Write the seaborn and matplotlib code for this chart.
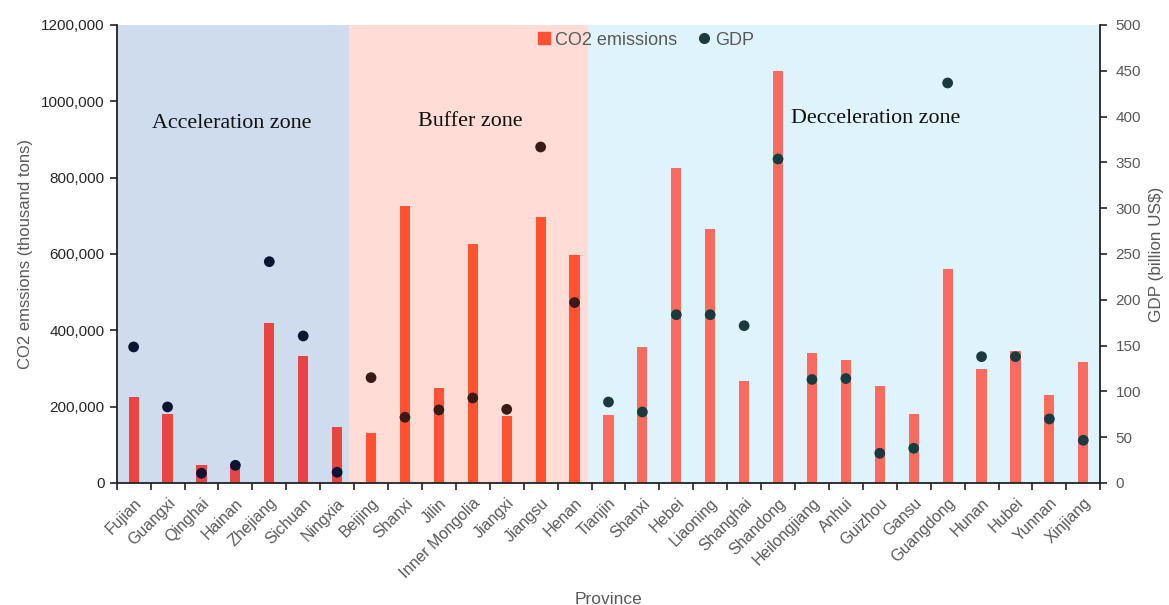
import numpy as np
import pandas as pd
import matplotlib
matplotlib.use("Agg")
import matplotlib.pyplot as plt
from matplotlib.lines import Line2D
import seaborn as sns

provinces = ["Fujian", "Guangxi", "Qinghai", "Hainan", "Zhejiang", "Sichuan", "Ningxia",
             "Beijing", "Shanxi", "Jilin", "Inner Mongolia", "Jiangxi", "Jiangsu", "Henan",
             "Tianjin", "Shanxi", "Hebei", "Liaoning", "Shanghai", "Shandong", "Heilongjiang",
             "Anhui", "Guizhou", "Gansu", "Guangdong", "Hunan", "Hubei", "Yunnan", "Xinjiang"]
zones = ["Acceleration"] * 7 + ["Buffer"] * 7 + ["Deceleration"] * 15
co2 = [225000, 180000, 47000, 50000, 420000, 333000, 146000,
       131000, 725000, 250000, 625000, 175000, 698000, 597000,
       178000, 356000, 825000, 665000, 266000, 1080000, 340000,
       321000, 254000, 182000, 560000, 298000, 346000, 231000, 317000]
gdp = [148.5, 83, 10.6, 19.3, 241.6, 160.5, 11.7,
       115, 71.7, 79.7, 92.8, 80.4, 366.8, 197,
       88.4, 77.5, 183.7, 183.7, 171.7, 353.7, 113,
       114, 32.4, 37.9, 436.7, 137.9, 137.9, 69.9, 46.6]
left_ticks = [0, 200000, 400000, 600000, 800000, 1000000, 1200000]
left_labels = ["0", "200,000", "400,000", "600,000", "800,000", "1000,000", "1200,000"]
right_ticks = [0, 50, 100, 150, 200, 250, 300, 350, 400, 450, 500]

df = pd.DataFrame({"pos": np.arange(len(provinces)), "province": provinces,
                   "zone": zones, "co2": co2, "gdp": gdp})

bar_colors = {"Acceleration": "#E84444", "Buffer": "#FF5233", "Deceleration": "#FA6A5E"}
dot_colors = {"Acceleration": "#0A1433", "Buffer": "#3B1A15", "Deceleration": "#1B3A40"}
bg_colors = {"Acceleration": "#CFDCEE", "Buffer": "#FFDCD6", "Deceleration": "#DFF3FC"}

sns.set_theme(style="white")
plt.rcParams["font.family"] = ["Liberation Sans", "DejaVu Sans"]

fig = plt.figure(figsize=(11.69, 6.05), dpi=100)
ax = fig.add_axes([0.0998, 0.2017, 0.8414, 0.757])

# zone backgrounds
spans = [("Acceleration", -0.5, 6.35), ("Buffer", 6.35, 13.39), ("Deceleration", 13.39, 28.5)]
for z, a, b in spans:
    ax.axvspan(a, b, color=bg_colors[z], zorder=0, lw=0)

sns.barplot(data=df, x="pos", y="co2", hue="zone", palette=bar_colors, dodge=False,
            width=0.3, ax=ax, legend=False, zorder=2, saturation=1, linewidth=0)
ax.set_xlim(-0.5, 28.5)
ax.set_ylim(0, 1200000)
ax.set_yticks(left_ticks)
ax.set_yticklabels(left_labels, color="#262626", fontsize=11)
ax.set_xticks(np.arange(len(provinces)))
ax.set_xticklabels(provinces, rotation=45, ha="right", rotation_mode="anchor",
                   color="#595959", fontsize=11.5)
ax.set_xticks(np.arange(-0.5, 29, 1), minor=True)
ax.tick_params(axis="x", which="major", length=0, pad=9)
ax.tick_params(axis="x", which="minor", length=5, width=1.2, color="#222222", direction="out", bottom=True)
ax.tick_params(axis="y", length=5, width=1.2, color="#222222", direction="out", left=True)
ax.set_xlabel("Province", color="#595959", fontsize=12.5, labelpad=8)
ax.set_ylabel("CO2 emssions (thousand tons)", color="#595959", fontsize=12, labelpad=6)
for s in ["left", "bottom"]:
    ax.spines[s].set_color("#222222")
    ax.spines[s].set_linewidth(1.3)
for s in ["top", "right"]:
    ax.spines[s].set_visible(False)

ax2 = ax.twinx()
sns.scatterplot(data=df, x="pos", y="gdp", hue="zone", palette=dot_colors, s=60,
                edgecolor="none", ax=ax2, legend=False, zorder=3)
ax2.set_xlim(-0.5, 28.5)
ax2.set_ylim(0, 500)
ax2.set_yticks(right_ticks)
ax2.set_yticklabels([str(t) for t in right_ticks], color="#595959", fontsize=11)
ax2.tick_params(axis="y", length=5, width=1.2, color="#222222", direction="out", right=True, pad=6)
ax2.set_ylabel(r"GDP (billion US\$)", color="#595959", fontsize=12.3, labelpad=6)
ax2.spines["right"].set_color("#222222")
ax2.spines["right"].set_linewidth(1.3)
for s in ["top", "left", "bottom"]:
    ax2.spines[s].set_visible(False)

serif = ["Liberation Serif", "DejaVu Serif"]
ax.text(2.9, 943000, "Acceleration zone", family=serif, fontsize=15.8, ha="center", va="center", color="#111111", zorder=4)
ax.text(9.92, 946000, "Buffer zone", family=serif, fontsize=15.8, ha="center", va="center", color="#111111", zorder=4)
ax.text(21.87, 956000, "Decceleration zone", family=serif, fontsize=15.8, ha="center", va="center", color="#111111", zorder=4)

handles = [Line2D([], [], marker="s", linestyle="none", color="#FF5233", markersize=9),
           Line2D([], [], marker="o", linestyle="none", color="#1B3A40", markersize=7)]
leg = ax2.legend(handles, ["CO2 emissions", "GDP"], loc="center", bbox_to_anchor=(0.537, 0.967),
                 ncol=2, frameon=False, fontsize=13, handletextpad=0.1, columnspacing=1.0,
                 handlelength=1.0)
for t in leg.get_texts():
    t.set_color("#595959")

fig.savefig("out.png", dpi=100)
